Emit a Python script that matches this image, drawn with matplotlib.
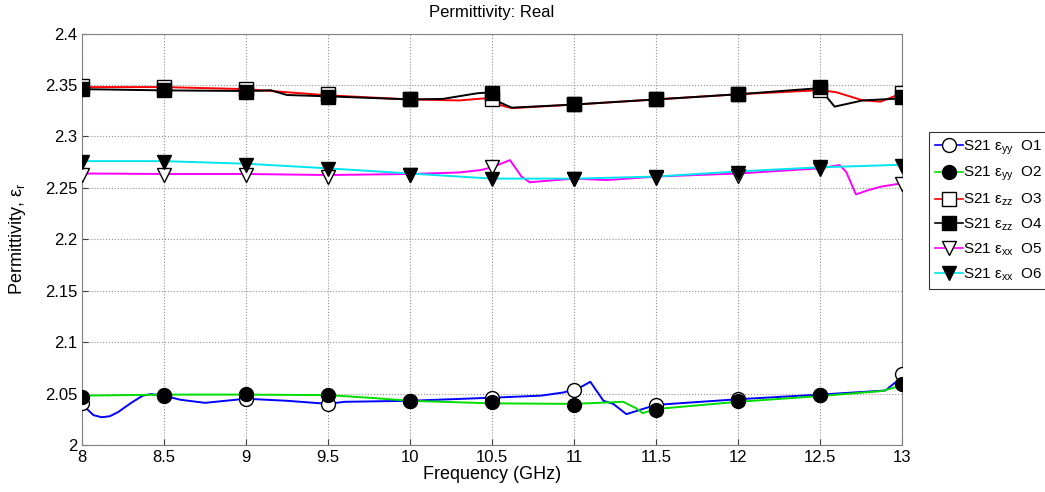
import matplotlib.pyplot as plt
from matplotlib.lines import Line2D

plt.rcParams['font.family'] = ['Liberation Sans', 'DejaVu Sans']
plt.rcParams['mathtext.fontset'] = 'custom'
plt.rcParams['mathtext.rm'] = 'Liberation Sans'
plt.rcParams['mathtext.it'] = 'Liberation Sans:italic'

### MARKER DATA (sampled every 0.5 GHz)
freq = [8.0, 8.5, 9.0, 9.5, 10.0, 10.5, 11.0, 11.5, 12.0, 12.5, 13.0]
o1_pts = [2.041, 2.048, 2.045, 2.040, 2.043, 2.046, 2.0535, 2.039, 2.0445, 2.049, 2.069]
o2_pts = [2.047, 2.049, 2.050, 2.049, 2.043, 2.0415, 2.039, 2.034, 2.043, 2.0486, 2.059]
o3_pts = [2.349, 2.348, 2.346, 2.341, 2.336, 2.336, 2.3315, 2.336, 2.341, 2.345, 2.342]
o4_pts = [2.346, 2.345, 2.3435, 2.3386, 2.336, 2.342, 2.3315, 2.336, 2.341, 2.348, 2.338]
o5_pts = [2.2625, 2.263, 2.263, 2.261, 2.263, 2.270, 2.259, 2.260, 2.262, 2.268, 2.2537]
o6_pts = [2.275, 2.275, 2.2725, 2.268, 2.2625, 2.2586, 2.259, 2.2605, 2.2645, 2.2705, 2.2715]

### LINE DATA
o1_f = [8.0, 8.03, 8.07, 8.12, 8.17, 8.22, 8.3, 8.37, 8.42, 8.5, 8.6, 8.75, 9.0, 9.25, 9.5, 9.6,
        10.0, 10.5, 10.8, 10.94, 11.05, 11.1, 11.18, 11.24, 11.32, 11.4, 11.5, 12.0, 12.5, 12.9, 13.0]
o1_v = [2.041, 2.035, 2.029, 2.027, 2.028, 2.032, 2.041, 2.048, 2.0495, 2.048, 2.044, 2.041, 2.045,
        2.043, 2.040, 2.042, 2.043, 2.046, 2.048, 2.0512, 2.057, 2.0615, 2.043, 2.040, 2.030,
        2.034, 2.039, 2.0445, 2.049, 2.053, 2.066]
o2_f = [8.0, 8.5, 9.0, 9.5, 9.75, 10.0, 10.5, 11.0, 11.3, 11.38, 11.42, 11.5, 12.0, 12.5, 12.88, 13.0]
o2_v = [2.048, 2.049, 2.049, 2.0485, 2.046, 2.043, 2.0405, 2.040, 2.042, 2.0357, 2.031, 2.035,
        2.042, 2.0476, 2.0525, 2.058]
o3_f = [8.0, 8.5, 9.0, 9.5, 10.0, 10.3, 10.45, 10.55, 10.62, 11.0, 11.5, 12.0, 12.5, 12.6,
        12.76, 12.87, 13.0]
o3_v = [2.348, 2.348, 2.346, 2.340, 2.336, 2.335, 2.337, 2.3305, 2.3275, 2.331, 2.336, 2.341,
        2.345, 2.343, 2.3352, 2.3338, 2.342]
o4_f = [8.0, 8.5, 9.0, 9.1, 9.15, 9.25, 9.5, 10.0, 10.2, 10.41, 10.5, 10.55, 10.62, 11.0, 11.5,
        12.0, 12.5, 12.54, 12.59, 12.76, 13.0]
o4_v = [2.346, 2.3448, 2.3442, 2.3445, 2.345, 2.3403, 2.339, 2.336, 2.3365, 2.342, 2.343, 2.333,
        2.328, 2.331, 2.336, 2.341, 2.347, 2.3387, 2.329, 2.335, 2.337]
o5_f = [8.0, 8.5, 9.0, 9.5, 10.0, 10.3, 10.43, 10.5, 10.61, 10.68, 10.73, 11.0, 11.2, 11.5,
        12.0, 12.5, 12.62, 12.66, 12.72, 12.8, 12.87, 13.0]
o5_v = [2.264, 2.2635, 2.2635, 2.2625, 2.2635, 2.265, 2.2673, 2.270, 2.277, 2.261, 2.2555, 2.259,
        2.2576, 2.261, 2.264, 2.269, 2.2722, 2.2657, 2.2437, 2.248, 2.2511, 2.2545]
o6_f = [8.0, 8.5, 9.0, 9.5, 10.0, 10.5, 11.0, 11.5, 12.0, 12.5, 13.0]
o6_v = [2.276, 2.276, 2.2735, 2.269, 2.264, 2.259, 2.259, 2.261, 2.266, 2.270, 2.2725]

labels = [r'S21 ε$_{\mathrm{yy}}$  O1', r'S21 ε$_{\mathrm{yy}}$  O2', r'S21 ε$_{\mathrm{zz}}$  O3',
          r'S21 ε$_{\mathrm{zz}}$  O4', r'S21 ε$_{\mathrm{xx}}$  O5', r'S21 ε$_{\mathrm{xx}}$  O6']
yticks = [2.0, 2.05, 2.1, 2.15, 2.2, 2.25, 2.3, 2.35, 2.4]
yticklabels = ['2', '2.05', '2.1', '2.15', '2.2', '2.25', '2.3', '2.35', '2.4']
xticks = [8, 8.5, 9, 9.5, 10, 10.5, 11, 11.5, 12, 12.5, 13]
xticklabels = ['8', '8.5', '9', '9.5', '10', '10.5', '11', '11.5', '12', '12.5', '13']

series = [
    (o1_f, o1_v, o1_pts, '#0000ff', 'o', 'white'),
    (o2_f, o2_v, o2_pts, '#00dd00', 'o', 'black'),
    (o3_f, o3_v, o3_pts, '#ff0000', 's', 'white'),
    (o4_f, o4_v, o4_pts, 'black', 's', 'black'),
    (o5_f, o5_v, o5_pts, '#ff00ff', 'v', 'white'),
    (o6_f, o6_v, o6_pts, '#00e5ee', 'v', 'black'),
]

fig = plt.figure(figsize=(10.45, 4.92), dpi=100)
ax = fig.add_axes([0.0785, 0.0955, 0.7845, 0.8362])

handles = []
for (lf, lv, pts, col, mk, face), lab in zip(series, labels):
    ax.plot(lf, lv, color=col, lw=1.4, zorder=2)
    handles.append(Line2D([], [], color=col, lw=1.2, marker=mk, markersize=10,
                          markerfacecolor=face, markeredgecolor='black', label=lab))
# markers on top of all lines
for (lf, lv, pts, col, mk, face) in series:
    ax.plot(freq, pts, ls='none', marker=mk, markersize=10, markerfacecolor=face,
            markeredgecolor='black', markeredgewidth=1.0, zorder=3)

ax.set_xlim(8, 13)
ax.set_ylim(2.0, 2.4)
ax.set_xticks(xticks)
ax.set_xticklabels(xticklabels)
ax.set_yticks(yticks)
ax.set_yticklabels(yticklabels)
ax.tick_params(direction='in', labelsize=12, length=4, colors='#404040', labelcolor='black')
ax.grid(True, linestyle=':', color='#909090', lw=0.8)
for sp in ax.spines.values():
    sp.set_color('#808080')

ax.set_title('Permittivity: Real', fontsize=12, pad=12)
ax.set_xlabel('Frequency (GHz)', fontsize=13, labelpad=1)
ax.set_ylabel(r'Permittivity, ε$_{\mathrm{r}}$', fontsize=13, labelpad=12)

leg = fig.legend(handles=handles, loc='upper left', bbox_to_anchor=(0.889, 0.731),
                 fontsize=11, frameon=True, fancybox=False, edgecolor='black',
                 handlelength=1.8, handletextpad=0.05, labelspacing=0.55, borderpad=0.4,
                 borderaxespad=0)
leg.get_frame().set_linewidth(0.8)

fig.savefig('out.png', dpi=100)
